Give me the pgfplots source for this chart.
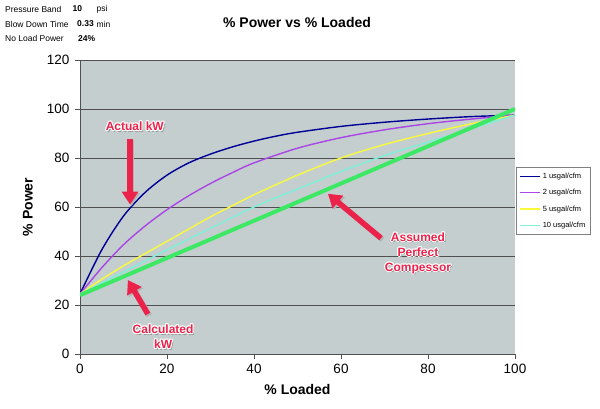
\documentclass[border=0pt]{standalone}
\usepackage{fontspec}
\setmainfont{Liberation Sans}
\usepackage{pgfplots}
\pgfplotsset{compat=1.18}
\usetikzlibrary{arrows.meta}

\definecolor{plotbg}{RGB}{196,206,206}
\definecolor{gridgray}{RGB}{80,80,80}
\definecolor{c1}{RGB}{0,0,150}
\definecolor{c2}{RGB}{170,70,230}
\definecolor{c5}{RGB}{250,250,60}
\definecolor{c10}{RGB}{125,240,215}
\definecolor{perfect}{RGB}{60,232,100}
\definecolor{callred}{RGB}{235,35,75}

\tikzset{
  calltext/.style={font=\bfseries\fontsize{12}{15}\selectfont, align=center, inner sep=0pt},
  callarrow/.style={callred, line width=5.5pt, -{Triangle[width=16pt,length=13pt]}},
  shadowarrow/.style={black!30, line width=5.5pt, -{Triangle[width=16pt,length=13pt]}},
}

% red callout text with a white rim and a soft drop shadow
\newcommand{\callout}[3]{%
  \node[calltext,text=black!40,xshift=1.6pt,yshift=-1.6pt] at (axis cs:#1,#2) {#3};
  \node[calltext,text=white,xshift=1.1pt] at (axis cs:#1,#2) {#3};
  \node[calltext,text=white,xshift=-1.1pt] at (axis cs:#1,#2) {#3};
  \node[calltext,text=white,yshift=1.1pt] at (axis cs:#1,#2) {#3};
  \node[calltext,text=white,yshift=-1.1pt] at (axis cs:#1,#2) {#3};
  \node[calltext,text=white,xshift=0.8pt,yshift=0.8pt] at (axis cs:#1,#2) {#3};
  \node[calltext,text=white,xshift=-0.8pt,yshift=0.8pt] at (axis cs:#1,#2) {#3};
  \node[calltext,text=white,xshift=0.8pt,yshift=-0.8pt] at (axis cs:#1,#2) {#3};
  \node[calltext,text=white,xshift=-0.8pt,yshift=-0.8pt] at (axis cs:#1,#2) {#3};
  \node[calltext,text=callred] at (axis cs:#1,#2) {#3};
}

\begin{document}
\begin{tikzpicture}
\path[use as bounding box] (0,0) rectangle (600pt,409pt);

% settings block
\begin{scope}[font=\fontsize{8.5}{10}\selectfont]
  \node[anchor=west,inner sep=0pt] at (5pt,400pt) {Pressure Band};
  \node[anchor=west,inner sep=0pt] at (72.5pt,400pt) {\textbf{10}};
  \node[anchor=west,inner sep=0pt] at (96.5pt,400pt) {psi};
  \node[anchor=west,inner sep=0pt] at (5pt,385pt) {Blow Down Time};
  \node[anchor=west,inner sep=0pt] at (77pt,385pt) {\textbf{0.33}};
  \node[anchor=west,inner sep=0pt] at (96.5pt,385pt) {min};
  \node[anchor=west,inner sep=0pt] at (5pt,370.5pt) {No Load Power};
  \node[anchor=west,inner sep=0pt] at (78pt,370.5pt) {\textbf{24\%}};
\end{scope}

\node[font=\bfseries\fontsize{14}{16}\selectfont] at (297pt,386pt) {\% Power vs \% Loaded};

\begin{axis}[
  at={(80pt,55pt)}, anchor=south west,
  scale only axis, width=435pt, height=294pt,
  xmin=0, xmax=100, ymin=0, ymax=120,
  xtick={0,20,...,100}, ytick={0,20,...,120},
  axis x line*=bottom, axis y line*=left,
  axis line style={-, gridgray, line width=0.9pt},
  axis background/.style={fill=plotbg},
  ymajorgrids, grid style={gridgray, line width=0.8pt},
  tick align=outside, major tick length=5pt,
  tick style={gridgray, line width=0.9pt},
  /pgf/number format/assume math mode=true,
  ticklabel style={font=\fontsize{13.5}{15}\selectfont},
  yticklabel style={xshift=-2pt},
  xticklabel style={yshift=-2pt},
  xlabel={\% Loaded}, ylabel={\% Power},
  label style={font=\bfseries\fontsize{14}{16}\selectfont},
  xlabel style={at={(axis description cs:0.5,-0.122)}, anchor=center},
  ylabel style={at={(axis description cs:-0.12,0.5)}, anchor=center},
  legend style={at={(axis description cs:1.003,0.636)}, anchor=north west,
    font=\fontsize{7.5}{9}\selectfont, draw=gray, fill=white,
    inner xsep=3pt, inner ysep=3.5pt, row sep=5.5pt},
  legend cell align=left,
  legend image code/.code={\draw[#1, line width=1.3pt] (0pt,0pt) -- (20pt,0pt);},
]

\addplot[c1, line width=1.4pt, smooth] coordinates {
  (0,24.5) (5,42.5) (10,56.3) (15,66) (20,73) (25,78) (30,81.6) (35,84.5)
  (40,86.9) (45,88.9) (50,90.5) (60,92.9) (70,94.6) (80,95.9) (90,96.9) (100,97.5)};
\addlegendentry{1 usgal/cfm}

\addplot[c2, line width=1.4pt, smooth] coordinates {
  (0,24.5) (5,35.2) (10,44.6) (15,52.3) (20,58.9) (25,64.6) (30,69.6) (35,74)
  (40,78) (50,84) (60,88.3) (70,91.5) (80,94) (90,95.9) (100,97.5)};
\addlegendentry{2 usgal/cfm}

\addplot[c5, line width=1.4pt, smooth] coordinates {
  (0,24.5) (5,30.5) (10,36) (15,41) (20,46) (25,51) (30,56) (35,60.5)
  (40,65) (50,73) (60,80) (70,85.5) (80,90) (90,94) (100,97.5)};
\addlegendentry{5 usgal/cfm}

\addplot[c10, line width=1.4pt, smooth] coordinates {
  (0,24.5) (10,33.5) (20,42.5) (30,51.3) (40,60) (50,67.3) (60,74.5)
  (70,81) (80,86.5) (90,92) (100,97.5)};
\addlegendentry{10 usgal/cfm}

% ideal compressor: power proportional to load above the no-load floor
\addplot[perfect, line width=4pt, forget plot] coordinates {(0,24) (100,100)};

% callouts
\draw[shadowarrow] ([xshift=1.5pt,yshift=-1.5pt]axis cs:11.5,87.8) -- ([xshift=1.5pt,yshift=-1.5pt]axis cs:11.5,61);
\draw[callarrow] (axis cs:11.5,87.8) -- (axis cs:11.5,61);
\callout{12.6}{93}{Actual kW}

\draw[shadowarrow] ([xshift=1.5pt,yshift=-1.5pt]axis cs:69.2,47.3) -- ([xshift=1.5pt,yshift=-1.5pt]axis cs:57,65.4);
\draw[callarrow] (axis cs:69.2,47.3) -- (axis cs:57,65.4);
\callout{77.7}{41.2}{Assumed\\Perfect\\Compessor}

\draw[shadowarrow] ([xshift=1.5pt,yshift=-1.5pt]axis cs:15.6,16.3) -- ([xshift=1.5pt,yshift=-1.5pt]axis cs:11,30.2);
\draw[callarrow] (axis cs:15.6,16.3) -- (axis cs:11,30.2);
\callout{19.1}{7}{Calculated\\kW}

\end{axis}
\end{tikzpicture}
\end{document}
